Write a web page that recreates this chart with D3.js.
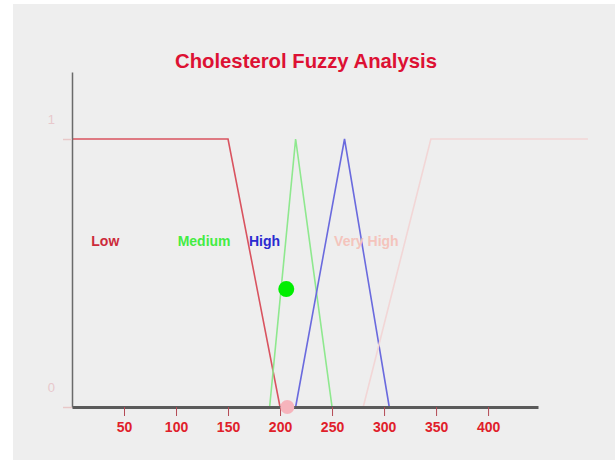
<!DOCTYPE html>
<html>
<head>
<meta charset="utf-8">
<script src="https://cdn.jsdelivr.net/npm/d3@7"></script>
<style>
  body { margin: 0; background: #fff; }
</style>
</head>
<body>
<div id="chart"></div>
<script>
// membership functions (cholesterol value, membership degree)
var lowX = [0, 150, 200];
var lowY = [1, 1, 0];
var mediumX = [190, 215, 250];
var mediumY = [0, 1, 0];
var highX = [215, 262, 305];
var highY = [0, 1, 0];
var veryHighX = [280, 345, 496];
var veryHighY = [0, 1, 1];

var setNames = ["Low", "Medium", "High", "Very High"];
var labelX = [32, 127, 185, 283];
var labelY = 0.62;

// evaluated points
var pointX = [206, 207];
var pointY = [0.44, 0];

var xTicks = [50, 100, 150, 200, 250, 300, 350, 400];
var yTicks = [0, 1];

var width = 615, height = 460;

var svg = d3.select("#chart")
  .append("svg")
  .attr("width", width)
  .attr("height", height);

// grey panel
svg.append("rect")
  .attr("x", 13).attr("y", 4)
  .attr("width", width - 13).attr("height", height - 4)
  .attr("fill", "#eeeeee");

var x = d3.scaleLinear().domain([0, 448]).range([72, 538]);
var y = d3.scaleLinear().domain([0, 1.25]).range([407, 72]);

// title
svg.append("text")
  .attr("x", 306)
  .attr("y", 68)
  .attr("text-anchor", "middle")
  .attr("font-family", "Liberation Sans, Arial, sans-serif")
  .attr("font-weight", "bold")
  .attr("font-size", "21px")
  .attr("textLength", 262)
  .attr("lengthAdjust", "spacingAndGlyphs")
  .attr("fill", "#dd1133")
  .text("Cholesterol Fuzzy Analysis");

// membership lines
var line = d3.line()
  .x(function(d) { return x(d[0]); })
  .y(function(d) { return y(d[1]); });

var sets = [
  { xs: lowX, ys: lowY, color: "#d9535f" },
  { xs: mediumX, ys: mediumY, color: "#8ee88e" },
  { xs: highX, ys: highY, color: "#6a6ade" },
  { xs: veryHighX, ys: veryHighY, color: "#f2d6d6" }
];

svg.append("g")
  .selectAll("path")
  .data(sets)
  .enter()
  .append("path")
    .attr("d", function(d) { return line(d.xs.map(function(v, i) { return [v, d.ys[i]]; })); })
    .attr("fill", "none")
    .attr("stroke", function(d) { return d.color; })
    .attr("stroke-width", 1.6);

// x axis
var xAxis = svg.append("g")
  .attr("transform", "translate(0," + y(0) + ")")
  .call(d3.axisBottom(x).tickValues(xTicks).tickSize(9).tickSizeOuter(0).tickPadding(6));
xAxis.select(".domain").attr("stroke", "#5a5a5a").attr("stroke-width", 3);
xAxis.selectAll(".tick line").attr("stroke", "#b44a55").attr("stroke-width", 1);
xAxis.selectAll(".tick text")
  .attr("fill", "#e0202a")
  .attr("font-family", "Liberation Sans, Arial, sans-serif")
  .attr("font-weight", "bold")
  .attr("font-size", "14px");

// y axis
var yAxis = svg.append("g")
  .attr("transform", "translate(" + x(0) + ",0)")
  .call(d3.axisLeft(y).tickValues(yTicks).tickSize(9).tickSizeOuter(0).tickFormat(d3.format("d")));
yAxis.select(".domain").attr("stroke", "#6a6a6a").attr("stroke-width", 1.5);
yAxis.selectAll(".tick line").attr("stroke", "#e8c8c8").attr("stroke-width", 1.5);
yAxis.selectAll(".tick text")
  .attr("fill", "#e8c8cc")
  .attr("x", -17)
  .attr("dy", "-1.2em")
  .attr("font-family", "Liberation Sans, Arial, sans-serif")
  .attr("font-size", "13px");

// set labels
var labelColors = ["#cc2a3a", "#44ec44", "#2a2ad0", "#f4c4bc"];
svg.append("g")
  .selectAll("text")
  .data(setNames)
  .enter()
  .append("text")
    .attr("x", function(d, i) { return x(labelX[i]); })
    .attr("y", y(labelY))
    .attr("dy", "0.35em")
    .attr("text-anchor", "middle")
    .attr("font-family", "Liberation Sans, Arial, sans-serif")
    .attr("font-weight", "bold")
    .attr("font-size", "14px")
    .attr("fill", function(d, i) { return labelColors[i]; })
    .text(function(d) { return d; });

// points
var pointColors = ["#00ee00", "#f6b4bc"];
var pointR = [8, 7];
svg.append("g")
  .selectAll("circle")
  .data(pointX)
  .enter()
  .append("circle")
    .attr("cx", function(d) { return x(d); })
    .attr("cy", function(d, i) { return y(pointY[i]); })
    .attr("r", function(d, i) { return pointR[i]; })
    .attr("fill", function(d, i) { return pointColors[i]; });
</script>
</body>
</html>
